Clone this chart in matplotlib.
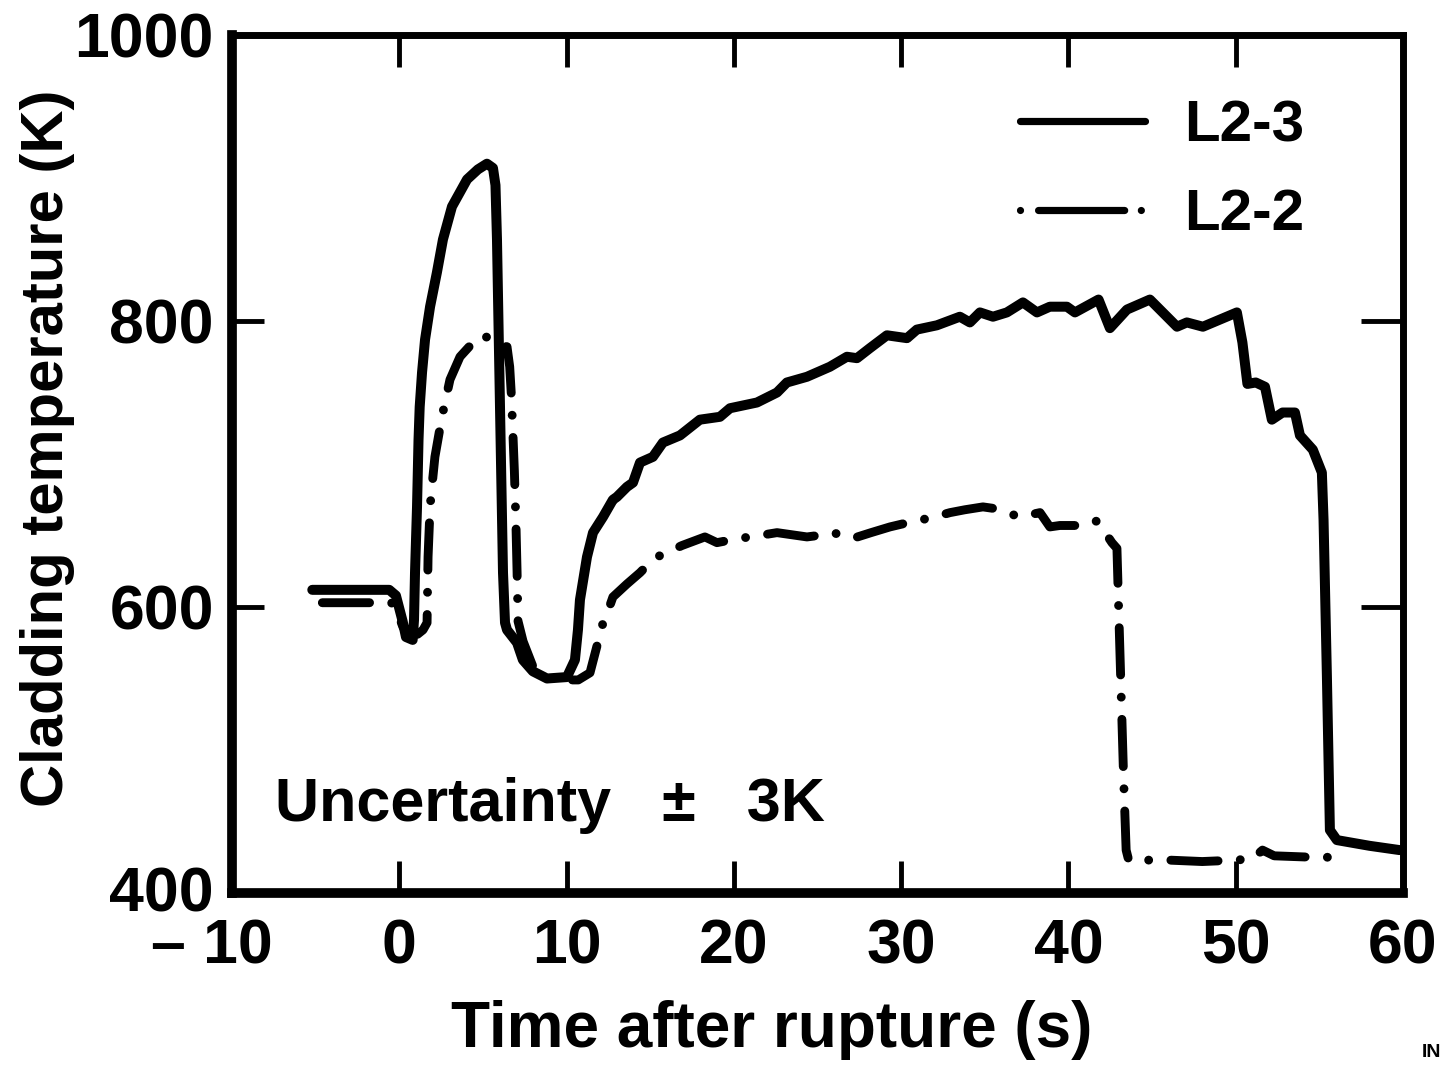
import matplotlib
matplotlib.use('Agg')
import matplotlib.pyplot as plt
from matplotlib.lines import Line2D
from matplotlib.transforms import ScaledTranslation

plt.rcParams['font.family'] = ['Liberation Sans', 'DejaVu Sans']
plt.rcParams['font.weight'] = 'bold'
plt.rcParams['lines.scale_dashes'] = False

# ---- data ----
l23_t = [-5.2, -0.6, -0.2, 0.2, 0.4, 0.8, 0.88, 0.94, 1.06, 1.15, 1.22, 1.36, 1.54, 1.84,
         2.25, 2.61, 3.15, 4.05, 4.7, 5.24, 5.6, 5.75, 5.84, 6.02, 6.2, 6.32, 6.44, 7.04,
         7.39, 7.99, 8.83, 10.02, 10.5, 10.68, 10.8, 11.22, 11.58, 12.18, 12.77, 13.01,
         13.61, 13.97, 14.39, 15.16, 15.76, 16.78, 17.97, 19.17, 19.77, 21.38, 22.58,
         23.17, 24.37, 25.74, 26.76, 27.36, 28.13, 29.15, 30.35, 30.94, 32.14, 33.51,
         34.11, 34.71, 35.49, 36.32, 37.28, 38.12, 38.89, 39.91, 40.39, 41.8, 42.48, 43.5,
         44.87, 46.49, 47.08, 48.04, 50.07, 50.4, 50.7, 51.2, 51.75, 52.16, 52.8, 53.54,
         53.84, 54.61, 55.15, 55.25, 55.45, 55.63, 56.05, 58.0, 59.8]
l23_T = [612, 612, 608, 590, 579, 577, 591, 624, 670, 717, 740, 764, 787, 810,
         834, 857, 880, 899, 906, 910, 907, 895, 857, 740, 624, 589, 584, 575,
         563, 555, 550, 551, 563, 584, 605, 635, 652, 663, 675, 677,
         684, 687, 701, 705, 715, 720, 731, 733, 739, 743, 750,
         757, 761, 768, 775, 774, 781, 790, 788, 794, 797, 803,
         799, 806, 803, 806, 813, 806, 810, 810, 806, 815, 795, 808,
         815, 796, 799, 796, 806, 785, 756, 757, 754, 731, 736, 736,
         720, 710, 694, 661, 552, 444, 437, 433, 430]

l22_t = [-4.6, -0.5, -0.3, 0.22, 0.64, 1.1, 1.42, 1.66, 1.72, 1.84, 1.95, 2.13, 2.55,
         3.03, 3.63, 4.41, 4.94, 5.6, 6.1, 6.44, 6.6, 6.7, 6.78, 6.88, 6.97, 7.04, 7.1,
         7.4, 8.0, 9.0, 10.0, 10.7, 11.4, 11.8, 12.18, 12.47, 12.77, 13.6, 14.39, 14.81,
         15.58, 16.9, 18.27, 18.99, 20.3, 21.0, 22.58, 24.37, 25.03, 25.92, 27.12, 28.2,
         29.33, 30.41, 31.24, 32.3, 32.92, 33.81, 34.89, 35.49, 36.3, 37.1, 38.3, 38.89,
         39.49, 40.69, 41.3, 41.7, 42.2, 42.6, 42.9, 43.0, 43.15, 43.3, 43.45, 43.6, 46.0,
         48.0, 50.0, 51.0, 51.6, 52.3, 54.6, 55.6]
l22_T = [603, 603, 602, 586, 580, 581, 584, 589, 635, 670, 684, 705, 733,
         759, 775, 785, 790, 787, 783, 782, 768, 748, 725, 695, 660, 625, 590,
         576, 558, 550, 549, 549, 554, 572, 589, 597, 607, 616, 624, 629,
         636, 643, 649, 645, 648, 649, 652, 649, 650, 652, 648, 652,
         656, 659, 661, 664, 666, 668, 670, 669, 666, 663, 666, 656,
         657, 657, 660, 660, 652, 645, 641, 600, 540, 480, 430, 423, 423,
         422, 423, 424, 430, 426, 425, 425]

series_labels = ['L2-3', 'L2-2']
x_ticks = [-10, 0, 10, 20, 30, 40, 50, 60]
x_tick_labels = ['\u2013 10', '0', '10', '20', '30', '40', '50', '60']
y_ticks = [400, 600, 800, 1000]
y_tick_labels = ['400', '600', '800', '1000']

fig = plt.figure(figsize=(14.47, 10.73), dpi=100)
ax = fig.add_axes([232 / 1447, 1 - 893 / 1073, (1403 - 232) / 1447, (893 - 35) / 1073])

ax.plot(l23_t, l23_T, color='black', lw=7.2, solid_joinstyle='round',
        solid_capstyle='round')
ax.plot(l22_t, l22_T, color='black', lw=6.4, dashes=(34, 16, 0.01, 16),
        dash_capstyle='round', dash_joinstyle='round')

ax.set_xlim(-10, 60)
ax.set_ylim(400, 1000)
ax.set_xticks(x_ticks)
ax.set_xticklabels(x_tick_labels)
ax.set_yticks(y_ticks)
ax.set_yticklabels(y_tick_labels)
ax.tick_params(axis='both', direction='in', length=23, width=3.5, top=True, right=True,
               labelsize=45)
ax.tick_params(axis='x', pad=18)
ax.tick_params(axis='y', pad=13)
for tk in ax.yaxis.get_major_ticks():
    tk.tick2line.set_markersize(30)

# shift the "- 10" label a bit to the left and "400" a bit up, as in the original
lab0 = ax.get_xticklabels()[0]
lab0.set_transform(lab0.get_transform() + ScaledTranslation(-0.20, 0, fig.dpi_scale_trans))
laby0 = ax.get_yticklabels()[0]
laby0.set_transform(laby0.get_transform() + ScaledTranslation(0, 0.05, fig.dpi_scale_trans))

for side, w in [('left', 7), ('bottom', 7), ('top', 5), ('right', 5)]:
    ax.spines[side].set_linewidth(w)
    ax.spines[side].set_capstyle('projecting')

ax.set_xlabel('Time after rupture (s)', fontsize=46, fontweight='bold', labelpad=16)
ax.xaxis.set_label_coords((772 - 232) / 1171, -0.125)
ax.set_ylabel('Cladding temperature (K)', fontsize=43, fontweight='bold', labelpad=0)
ax.yaxis.label.set_y((893 - 448) / 858)

h1 = Line2D([], [], color='black', lw=5.2, solid_capstyle='round')
h2 = Line2D([], [], color='black', lw=5.2, dashes=(0.01, 13, 62, 12),
            dash_capstyle='round')
ax.legend([h1, h2], series_labels, loc='upper left',
          bbox_to_anchor=((1020 - 232) / 1171, (893 - 99) / 858),
          frameon=False, fontsize=42, handlelength=2.15, handletextpad=0.66,
          labelspacing=0.6, borderpad=0, borderaxespad=0)

ax.text(-7.43, 450, 'Uncertainty   \u00b1   3K', fontsize=44, fontweight='bold',
        ha='left', va='baseline')

fig.text(1422 / 1447, 1 - 1057 / 1073, 'IN', fontsize=14, fontweight='bold',
         ha='left', va='baseline')

fig.savefig('out.png', dpi=100)
